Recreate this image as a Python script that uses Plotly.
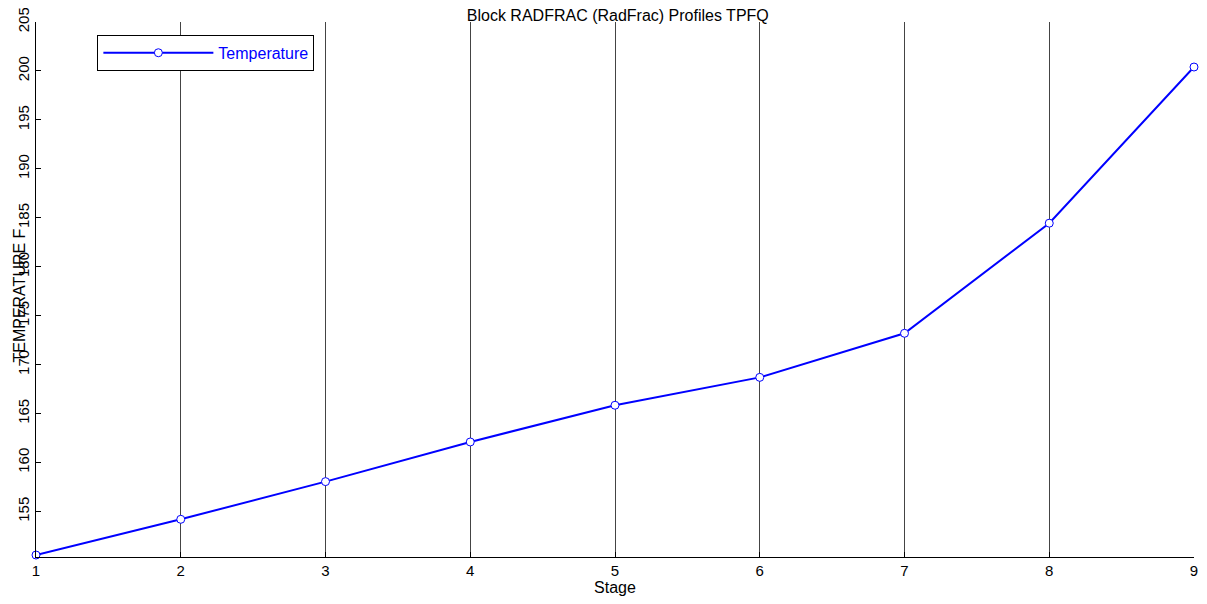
import plotly.graph_objects as go

# Stage temperature profile
stages = [1, 2, 3, 4, 5, 6, 7, 8, 9]
temperature = [150.55, 154.2, 158.05, 162.1, 165.85, 168.7, 173.2, 184.45, 200.4]
y_ticks = [155, 160, 165, 170, 175, 180, 185, 190, 195, 200, 205]

FONT = "Liberation Sans, Arial, Helvetica, sans-serif"

# the page body adds an 8px margin, so the figure is sized to fit inside the window
fig = go.Figure()
fig.add_trace(go.Scatter(
    x=stages, y=temperature, name="Temperature",
    mode="lines+markers", cliponaxis=False,
    line=dict(color="#0000ff", width=2),
    marker=dict(symbol="circle", size=8, color="white",
                line=dict(color="#0000ff", width=1)),
))

fig.update_layout(
    width=1191, height=588,
    plot_bgcolor="white", paper_bgcolor="white",
    font=dict(family=FONT, size=15, color="black"),
    margin=dict(l=28, r=5, t=14, b=39),
    title=dict(text="Block RADFRAC (RadFrac) Profiles TPFQ",
               x=0.512, xanchor="center", y=0.997, yanchor="top",
               pad=dict(t=0), font=dict(size=16)),
    showlegend=True,
    legend=dict(x=0.053, y=0.976, xanchor="left", yanchor="top",
                bordercolor="black", borderwidth=1, bgcolor="white",
                font=dict(size=16, color="#0000ff"), itemwidth=110),
    xaxis=dict(range=[1, 9], tickvals=stages, ticks="inside", ticklen=5,
               tickcolor="black", showline=True, linecolor="black", linewidth=1,
               showgrid=True, gridcolor="#444444", gridwidth=1, zeroline=False,
               automargin=False, ticklabeloverflow="allow",
               title=dict(text="Stage", standoff=4, font=dict(size=16))),
    yaxis=dict(range=[150.35, 205], tickvals=y_ticks, ticks="inside", ticklen=5,
               tickcolor="black", tickangle=-90, showline=True, linecolor="black",
               linewidth=1, showgrid=False, zeroline=False, automargin=False,
               ticklabeloverflow="allow"),
    annotations=[dict(text="TEMPERATURE F", xref="paper", yref="paper",
                      x=-0.0232, y=0.488, xanchor="left", yanchor="middle",
                      textangle=-90, showarrow=False, font=dict(size=16))],
)

fig.write_html("out.html")
